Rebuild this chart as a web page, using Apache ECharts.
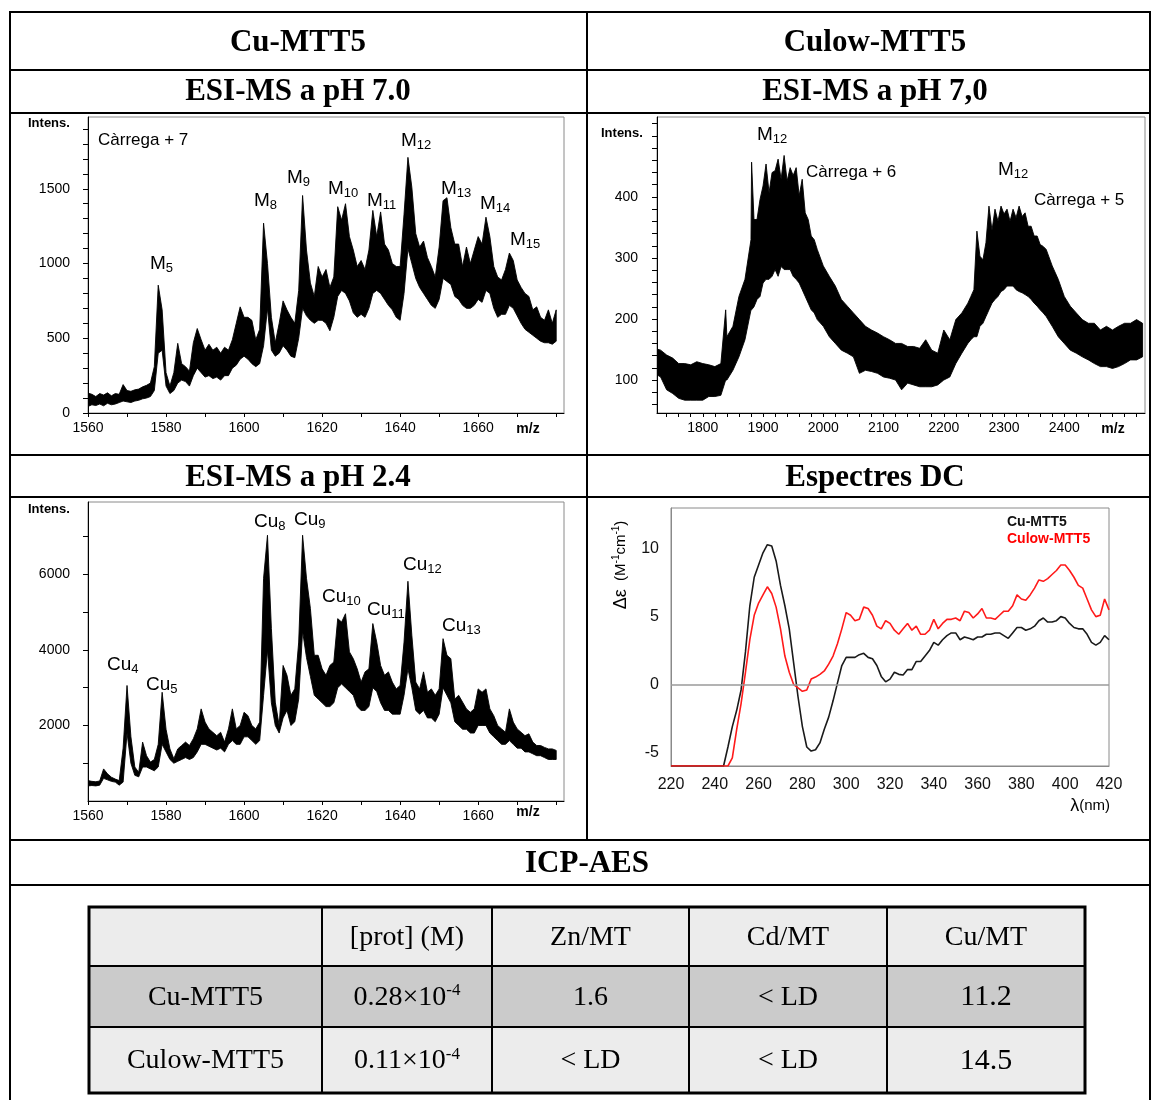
<!DOCTYPE html>
<html><head><meta charset="utf-8">
<script src="https://cdn.jsdelivr.net/npm/echarts@6/dist/echarts.min.js"></script>
<style>html,body{margin:0;padding:0;background:#fff}#c{width:1152px;height:1100px}</style>
</head><body><div id="c"></div>
<script>
// ---------- DATA ----------
// ESI-MS pH 7.0 (Cu-MTT5) and pH 2.4 share the m/z sampling
const ms7X = [1560,1561,1562,1563,1564,1565,1566,1567,1568,1569,1570,1571,1572,1573,1574,1575,1576,1577,1578,1579,1580,1581,1582,1583,1584,1585,1586,1587,1588,1589,1590,1591,1592,1593,1594,1595,1596,1597,1598,1599,1600,1601,1602,1603,1604,1605,1606,1607,1608,1609,1610,1611,1612,1613,1614,1615,1616,1617,1618,1619,1620,1621,1622,1623,1624,1625,1626,1627,1628,1629,1630,1631,1632,1633,1634,1635,1636,1637,1638,1639,1640,1641,1642,1643,1644,1645,1646,1647,1648,1649,1650,1651,1652,1653,1654,1655,1656,1657,1658,1659,1660,1661,1662,1663,1664,1665,1666,1667,1668,1669,1670,1671,1672,1673,1674,1675,1676,1677,1678,1679,1680];
const ms7Hi = [133,125,110,130,120,135,115,130,125,190,150,145,155,160,175,185,200,310,855,690,270,180,270,466,330,310,280,470,565,490,420,460,420,440,400,440,420,490,600,710,640,640,620,490,560,1270,1000,640,470,600,750,690,640,600,820,1455,1090,870,780,980,910,960,840,910,1380,1290,1400,1180,1090,980,1020,960,1090,1355,1180,1345,1130,1090,1000,980,980,1330,1710,1510,1200,1110,1150,1040,980,910,1110,1420,1440,1240,1130,1130,980,1110,1000,1090,1180,1130,1310,1180,980,910,890,960,1070,1020,890,840,800,780,690,710,640,620,690,600,690];
const ms7Lo = [44,55,50,60,48,65,55,60,70,80,75,70,80,85,95,100,110,150,400,420,180,130,150,200,220,210,180,250,300,270,240,250,230,240,220,250,250,300,320,360,380,360,330,310,330,450,700,420,380,400,450,420,380,370,500,700,650,620,600,620,620,600,550,640,780,820,800,750,670,640,660,640,700,800,820,800,760,720,690,640,620,800,1100,1000,900,840,800,760,720,700,760,900,880,860,780,760,720,700,700,720,760,740,820,800,700,640,660,660,720,700,650,600,560,540,520,500,480,470,470,460,480];
const ms24Hi = [540,520,510,530,850,720,630,580,540,1400,3060,1700,900,760,1560,1200,1030,1100,1500,2880,1900,1380,1120,1380,1470,1560,1470,1650,1910,2440,2090,1910,1820,1730,1820,1560,1910,2440,1910,2000,2350,2260,2000,1910,2090,5900,7040,4570,2620,2000,3590,3330,2800,2970,4210,7040,5900,5100,3860,3860,3500,3330,3590,3680,4830,4740,4960,3950,3770,3500,3150,3420,3500,4700,4210,3590,3330,3420,3150,2970,3060,4210,5820,4390,3150,2970,3420,2880,2970,2800,2970,4300,3860,3770,2700,2800,2620,2440,2350,2440,2970,2880,2970,2440,2260,2000,1910,1820,2440,2090,1910,1820,1730,1780,1560,1470,1470,1420,1380,1380,1340];
const ms24Lo = [400,410,400,420,600,560,520,500,420,500,1800,1000,680,640,900,900,850,800,900,1500,1300,1100,1000,1050,1100,1150,1100,1150,1300,1500,1500,1450,1400,1350,1400,1300,1500,1600,1500,1500,1700,1700,1600,1500,1600,2800,4000,2600,2000,1800,2200,2400,2000,2100,2700,4500,3800,3300,2800,2700,2600,2500,2500,2600,3000,3100,3000,2900,2800,2500,2400,2400,2500,3000,2900,2600,2400,2400,2300,2300,2300,2800,3500,3000,2400,2300,2400,2200,2200,2100,2300,3000,2800,2600,2100,2000,1900,1900,1800,1800,2000,2000,2000,1800,1700,1600,1500,1500,1600,1500,1400,1400,1300,1300,1250,1200,1200,1150,1100,1100,1100];
// ESI-MS pH 7,0 (Culow-MTT5)
const msLowX = [1720,1730,1740,1750,1760,1770,1780,1790,1800,1810,1820,1830,1838,1840,1850,1860,1870,1880,1881,1885,1890,1895,1900,1905,1910,1915,1920,1925,1930,1935,1940,1945,1950,1955,1960,1965,1970,1975,1980,1985,1990,2000,2010,2020,2030,2040,2050,2060,2070,2080,2090,2100,2110,2120,2130,2140,2150,2160,2170,2180,2190,2200,2210,2220,2230,2240,2245,2250,2255,2260,2265,2270,2275,2280,2285,2290,2295,2300,2305,2310,2315,2320,2325,2330,2335,2340,2345,2350,2355,2360,2365,2370,2380,2390,2400,2410,2420,2430,2440,2450,2460,2470,2480,2490,2500,2510,2520,2530];
const msLowHi = [152,149,141,136,127,127,125,130,127,125,122,127,215,171,188,237,265,330,457,363,363,396,418,454,407,440,443,462,429,468,426,448,435,448,402,429,374,363,336,330,314,287,270,254,232,221,210,199,188,182,177,171,166,160,160,155,155,152,166,149,144,182,166,199,210,226,237,248,344,303,297,325,385,345,380,360,385,372,380,360,380,366,385,368,374,352,352,336,336,322,319,314,287,265,237,221,210,199,193,193,182,188,182,188,193,193,199,193];
const msLowLo = [111,105,84,78,70,67,67,67,67,73,73,75,100,100,116,138,166,215,215,220,232,237,259,265,265,270,281,270,286,281,281,281,270,265,259,248,237,226,215,210,199,188,171,160,149,144,138,111,116,114,111,105,103,100,84,95,92,89,89,89,92,100,105,127,144,160,166,171,171,188,193,204,215,226,232,237,245,248,254,254,254,248,245,243,240,237,232,226,221,215,210,204,188,171,160,149,144,138,133,127,122,122,119,122,127,133,133,138];
// CD spectra
const cdX = [220,244,246,248,250,252,254,256,258,260,262,264,266,268,270,272,274,276,278,280,282,284,286,288,290,292,294,296,298,300,302,304,306,308,310,312,314,316,318,320,322,324,326,328,330,332,334,336,338,340,342,344,346,348,350,352,354,356,358,360,362,364,366,368,370,372,374,376,378,380,382,384,386,388,390,392,394,396,398,400,402,404,406,408,410,412,414,416,418,420];
const cdCu = [-6,-6,-4.6,-3.1,-1.9,-0.4,2.4,5.8,7.9,8.8,9.7,10.3,10.2,9.1,7.3,5.8,4.1,1.6,-0.9,-3.1,-4.6,-4.9,-4.8,-4.3,-3.3,-2.4,-1.2,0.1,1.4,2.0,2.0,2.0,2.2,2.3,2.0,1.9,1.4,0.6,0.2,0.4,0.9,0.75,0.7,1.1,1.1,1.7,1.7,2.1,2.5,3.1,2.9,3.3,3.6,3.8,3.8,3.3,3.5,3.4,3.3,3.5,3.5,3.7,3.7,3.8,3.8,3.6,3.4,3.8,4.2,4.2,4.0,4.1,4.3,4.7,4.9,4.6,4.6,4.7,5.0,4.9,4.5,4.2,4.1,4.1,3.7,3.1,2.9,3.1,3.6,3.3];
const cdCulow = [-6,-6,-6,-5.4,-3.3,-1.4,0.9,3.3,5.1,6.0,6.6,7.2,6.7,5.7,4.1,2.1,0.9,0.0,-0.25,-0.5,-0.4,0.4,0.55,0.75,1.0,1.5,2.1,3.0,4.1,5.3,5.1,4.7,4.8,5.7,5.6,5.1,4.3,4.1,4.7,4.5,4.0,3.7,4.1,4.5,4.0,4.3,3.7,3.7,4.0,4.8,4.1,4.5,4.8,4.8,4.9,4.7,5.4,5.3,4.9,5.2,5.6,4.9,4.9,4.8,5.1,5.4,5.4,5.8,6.6,6.3,6.2,6.6,7.1,7.7,7.6,7.8,8.1,8.4,8.8,8.8,8.4,7.9,7.3,7.1,6.3,5.5,5.0,5.1,6.3,5.5];
// tick values / labels
const ms7XTicks = [1560,1570,1580,1590,1600,1610,1620,1630,1640,1650,1660,1670,1680];
const ms7XLabels = [1560,1580,1600,1620,1640,1660];
const ms7YTicks = [0,100,200,300,400,500,600,700,800,900,1000,1100,1200,1300,1400,1500,1600,1700,1800,1900];
const ms7YLabels = [0,500,1000,1500];
const ms24YTicks = [1000,2000,3000,4000,5000,6000,7000];
const ms24YLabels = [2000,4000,6000];
const msLowXTicks = [1740,1760,1780,1800,1820,1840,1860,1880,1900,1920,1940,1960,1980,2000,2020,2040,2060,2080,2100,2120,2140,2160,2180,2200,2220,2240,2260,2280,2300,2320,2340,2360,2380,2400,2420,2440,2460,2480,2500,2520];
const msLowXLabels = [1800,1900,2000,2100,2200,2300,2400];
const msLowYTicks = [60,80,100,120,140,160,180,200,220,240,260,280,300,320,340,360,380,400,420,440,460,480,500,520];
const msLowYLabels = [100,200,300,400];
const cdXLabels = [220,240,260,280,300,320,340,360,380,400,420];
const cdYLabels = [-5,0,5,10];
// annotations text
const ms7Peaks = ['5','8','9','10','11','12','13','14','15'];
const ms24Peaks = ['4','5','8','9','10','11','12','13'];
const msLowPeaks = ['12','12'];
const msLowCharges = ['Càrrega + 6','Càrrega + 5'];
// ICP-AES table
const icpHeader = ['', '[prot] (M)', 'Zn/MT', 'Cd/MT', 'Cu/MT'];
const icpSamples = ['Cu-MTT5', 'Culow-MTT5'];
const icpProt = [['0.28×10','-4'], ['0.11×10','-4']];
const icpZn = ['1.6', '< LD'];
const icpCd = ['< LD', '< LD'];
const icpCu = ['11.2', '14.5'];

// ---------- LAYOUT ----------
const SANS = "'Liberation Sans', Arial, sans-serif";
const SERIF = "'Liberation Serif', 'Times New Roman', serif";
const ms7PeakPos = [[150,264],[254,201],[287,178],[328,189],[367,201],[401,141],[441,189],[480,204],[510,240]];
const ms24PeakPos = [[107,665],[146,685],[254,522],[294,520],[322,597],[367,610],[403,565],[442,626]];
const msLowPeakPos = [[757,135],[998,170]];
const msLowChargePos = [[806,172],[1034,200]];

const G = [];
function ln(x1,y1,x2,y2,w,c){G.push({type:'line',silent:true,z:100,shape:{x1,y1,x2,y2},style:{stroke:c||'#000',lineWidth:w||2}});}
function tx(x,y,s,st){G.push({type:'text',silent:true,z:100,x,y,style:Object.assign({text:s,fill:'#000',align:'center',verticalAlign:'middle',fontFamily:SANS},st||{})});}
function rect(x,y,w,h,fill){G.push({type:'rect',silent:true,z:90,shape:{x,y,width:w,height:h},style:{fill}});}

// outer table
[12,70,113,455,497,840,885].forEach(y=>ln(9,y,1151,y,2));
ln(10,12,10,1100,2); ln(1150,12,1150,1100,2); ln(587,12,587,840,2);
const H = {fontFamily:SERIF,fontWeight:'bold',fontSize:31};
tx(298,43,'Cu-MTT5',H); tx(875,43,'Culow-MTT5',H);
tx(298,92,'ESI-MS a pH 7.0',H); tx(875,92,'ESI-MS a pH 7,0',H);
tx(298,478,'ESI-MS a pH 2.4',H); tx(875,478,'Espectres DC',H);
tx(587,864,'ICP-AES',H);

// ESI annotations
const subRich = {m:{fontSize:19,fontFamily:SANS,lineHeight:22},s:{fontSize:13,fontFamily:SANS,verticalAlign:'bottom',lineHeight:12}};
ms7Peaks.forEach((p,i)=>tx(ms7PeakPos[i][0],ms7PeakPos[i][1],'{m|M}{s|'+p+'}',{align:'left',rich:subRich}));
ms24Peaks.forEach((p,i)=>tx(ms24PeakPos[i][0],ms24PeakPos[i][1],'{m|Cu}{s|'+p+'}',{align:'left',rich:subRich}));
msLowPeaks.forEach((p,i)=>tx(msLowPeakPos[i][0],msLowPeakPos[i][1],'{m|M}{s|'+p+'}',{align:'left',rich:subRich}));
msLowCharges.forEach((c,i)=>tx(msLowChargePos[i][0],msLowChargePos[i][1],c,{align:'left',fontSize:17}));
tx(98,140,'Càrrega + 7',{align:'left',fontSize:17});
const IB = {align:'left',fontSize:13,fontWeight:'bold'};
tx(28,123,'Intens.',IB); tx(601,133,'Intens.',IB); tx(28,509,'Intens.',IB);
const MZ = {fontSize:14,fontWeight:'bold'};
tx(528,429,'m/z',MZ); tx(1113,429,'m/z',MZ); tx(528,812,'m/z',MZ);
// CD annotations
G.push({type:'text',silent:true,z:100,x:621,y:565,rotation:Math.PI/2,style:{text:'{a|Δε}{b|  (M}{c|-1}{b|cm}{c|-1}{b|)}',align:'center',verticalAlign:'middle',fill:'#000',
  rich:{a:{fontSize:18,fontFamily:SANS,lineHeight:20},b:{fontSize:15,fontFamily:SANS,lineHeight:20},c:{fontSize:10,fontFamily:SANS,verticalAlign:'top',lineHeight:10}}}});
tx(1110,806,'{l|λ}{n|(nm)}',{align:'right',rich:{l:{fontSize:18,fontFamily:SANS},n:{fontSize:15,fontFamily:SANS}}});
tx(1007,522,'Cu-MTT5',{align:'left',fontSize:14,fontWeight:'bold',fill:'#111'});
tx(1007,539,'Culow-MTT5',{align:'left',fontSize:14,fontWeight:'bold',fill:'#ff0000'});

// ICP table
const colX = [89,322,492,689,887,1085];
const rowY = [907,966,1027,1093];
rect(89,907,996,59,'#ececec'); rect(89,966,996,61,'#cbcbcb'); rect(89,1027,996,66,'#ececec');
G.push({type:'rect',silent:true,z:100,shape:{x:89,y:907,width:996,height:186},style:{fill:'none',stroke:'#000',lineWidth:3}});
[322,492,689,887].forEach(x=>ln(x,907,x,1093,2));
[966,1027].forEach(y=>ln(89,y,1085,y,2));
const cc = i=>(colX[i]+colX[i+1])/2;
const rc = j=>(rowY[j]+rowY[j+1])/2;
const T = {fontFamily:SERIF,fontSize:28};
icpHeader.forEach((h,i)=>{ if(h) tx(cc(i),rc(0)+1,h,T); });
icpSamples.forEach((s,j)=>{
  const y = rc(j+1)+1;
  tx(cc(0),y,s,T);
  tx(cc(1),y,'{a|'+icpProt[j][0]+'}{e|'+icpProt[j][1]+'}',{rich:{a:{fontFamily:SERIF,fontSize:28,lineHeight:30},e:{fontFamily:SERIF,fontSize:17,verticalAlign:'top',lineHeight:16}}});
  tx(cc(2),y,icpZn[j],T);
  tx(cc(3),y,icpCd[j],T);
  tx(cc(4),y,icpCu[j],{fontFamily:SERIF,fontSize:30});
});

// ---------- CHART ----------
const pair = (xs,ys)=>xs.map((x,i)=>[x,ys[i]]);
// filled band between lower and upper envelope, projected through the axes
function band(idx,xs,lo,hi){
  return {type:'custom',xAxisIndex:idx,yAxisIndex:idx,silent:true,clip:true,z:2,
    data:xs.map((x,i)=>[x,lo[i],hi[i]]),
    encode:{x:0,y:[1,2]},
    renderItem:(params,api)=>{
      if(params.dataIndex!==0) return null;
      const pts=[];
      for(let i=0;i<xs.length;i++) pts.push(api.coord([xs[i],hi[i]]));
      for(let i=xs.length-1;i>=0;i--) pts.push(api.coord([xs[i],lo[i]]));
      return {type:'polygon',shape:{points:pts},style:{fill:'#000',stroke:'#000',lineWidth:0.9,lineJoin:'round'}};
    }};
}
const labFont = {fontFamily:SANS,fontSize:14,color:'#000',formatter:v=>String(v)};
function esiX(grid,min,max,ticks,labels){
  return {type:'value',gridIndex:grid,min,max,z:10,
    axisLine:{onZero:false,lineStyle:{color:'#000',width:1}},
    axisTick:{show:true,length:4,customValues:ticks,lineStyle:{color:'#000'}},
    axisLabel:Object.assign({customValues:labels,margin:8},labFont),
    splitLine:{show:false}};
}
function esiY(grid,min,max,ticks,labels,margin){
  return {type:'value',gridIndex:grid,min,max,z:10,
    axisLine:{show:true,onZero:false,lineStyle:{color:'#000',width:1}},
    axisTick:{show:true,length:5,customValues:ticks,lineStyle:{color:'#000'}},
    axisLabel:Object.assign({customValues:labels,margin:margin},labFont),
    splitLine:{show:false}};
}
const gridBase = {show:true,borderColor:'#8a8a8a',borderWidth:1,backgroundColor:'transparent',containLabel:false};
const option = {
  animation:false,
  backgroundColor:'#fff',
  grid:[
    Object.assign({left:88,top:117,width:476,height:296},gridBase),
    Object.assign({left:657,top:117,width:488,height:296},gridBase),
    Object.assign({left:88,top:502,width:476,height:299},gridBase),
    Object.assign({left:671,top:508,width:438,height:258},gridBase)
  ],
  xAxis:[
    esiX(0,1560,1682,ms7XTicks,ms7XLabels),
    esiX(1,1724,2534,msLowXTicks,msLowXLabels),
    esiX(2,1560,1682,ms7XTicks,ms7XLabels),
    {type:'value',gridIndex:3,min:220,max:420,
      axisLine:{onZero:false,lineStyle:{color:'#8a8a8a'}},axisTick:{show:false},
      axisLabel:{customValues:cdXLabels,margin:11,fontFamily:SANS,fontSize:16,color:'#111',formatter:v=>String(v)},splitLine:{show:false}}
  ],
  yAxis:[
    esiY(0,0,1980,ms7YTicks,ms7YLabels,18),
    esiY(1,46,531,msLowYTicks,msLowYLabels,19),
    esiY(2,0,7920,ms24YTicks,ms24YLabels,18),
    {type:'value',gridIndex:3,min:-6,max:13,
      axisLine:{show:true,onZero:false,lineStyle:{color:'#8a8a8a'}},axisTick:{show:false},
      axisLabel:{customValues:cdYLabels,margin:12,fontFamily:SANS,fontSize:16,color:'#111',formatter:v=>String(v)},splitLine:{show:false}}
  ],
  series:[
    band(0,ms7X,ms7Lo,ms7Hi),
    band(1,msLowX,msLowLo,msLowHi),
    band(2,ms7X,ms24Lo,ms24Hi),
    {type:'line',name:'Cu-MTT5',xAxisIndex:3,yAxisIndex:3,data:pair(cdX,cdCu),symbol:'none',silent:true,
      lineStyle:{color:'#1a1a1a',width:1.6},
      markLine:{silent:true,symbol:['none','none'],label:{show:false},lineStyle:{color:'#9a9a9a',width:1.5,type:'solid'},data:[{yAxis:0}]}},
    {type:'line',name:'Culow-MTT5',xAxisIndex:3,yAxisIndex:3,data:pair(cdX,cdCulow),symbol:'none',silent:true,
      lineStyle:{color:'#ff1a1a',width:1.6}}
  ],
  graphic:{elements:G}
};
const chart = echarts.init(document.getElementById('c'),null,{renderer:'canvas',width:1152,height:1100});
chart.setOption(option);
</script>
</body></html>
